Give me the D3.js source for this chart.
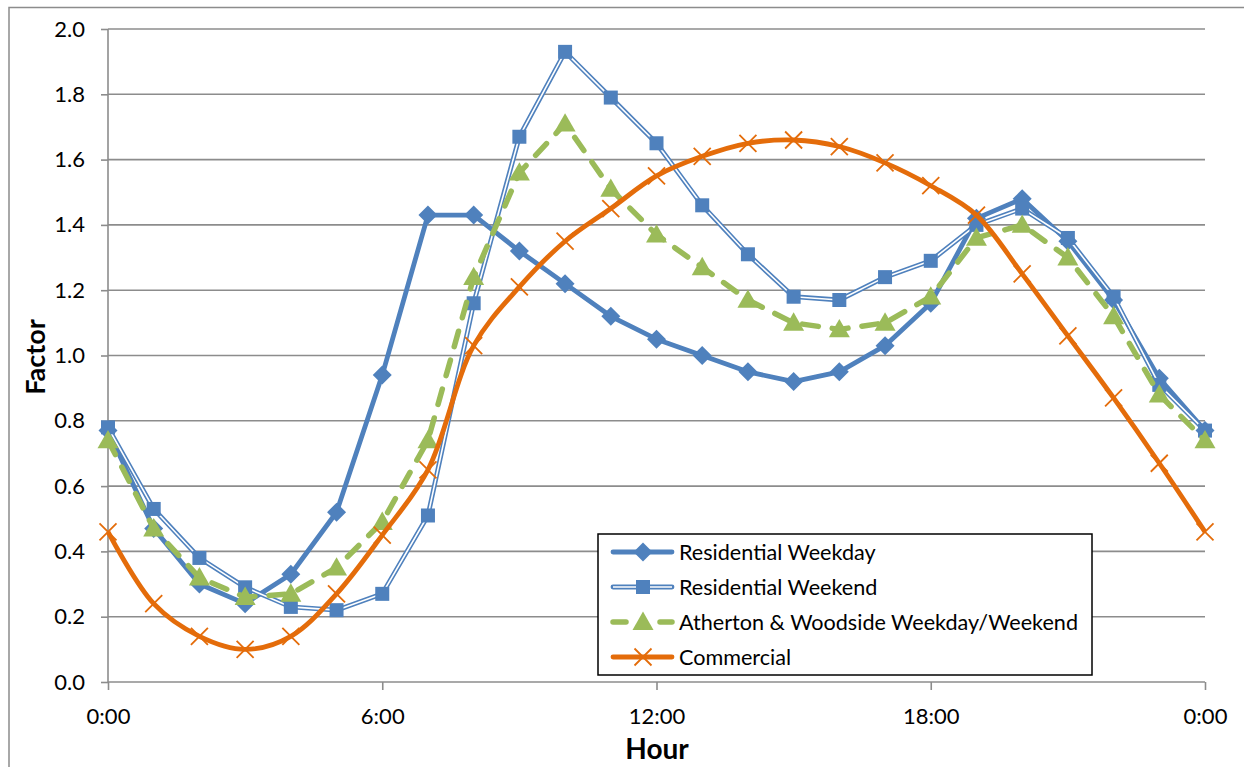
<!DOCTYPE html>
<html><head><meta charset="utf-8">
<script src="https://cdn.jsdelivr.net/npm/d3@7"></script>
<style>body{margin:0;background:#fff;} text{font-family:Lato, "Open Sans", sans-serif;}</style>
</head><body>
<svg id="chart" width="1254" height="767"></svg>
<script>
const hours = d3.range(0, 25);
const xTickLabels = ["0:00", "6:00", "12:00", "18:00", "0:00"];
const yTicks = [0, 0.2, 0.4, 0.6, 0.8, 1.0, 1.2, 1.4, 1.6, 1.8, 2.0];
const seriesNames = ["Residential Weekday", "Residential Weekend", "Atherton & Woodside Weekday/Weekend", "Commercial"];
const residentialWeekday = [0.77,0.47,0.30,0.24,0.33,0.52,0.94,1.43,1.43,1.32,1.22,1.12,1.05,1.00,0.95,0.92,0.95,1.03,1.16,1.42,1.48,1.35,1.17,0.93,0.77];
const residentialWeekend = [0.78,0.53,0.38,0.29,0.23,0.22,0.27,0.51,1.16,1.67,1.93,1.79,1.65,1.46,1.31,1.18,1.17,1.24,1.29,1.40,1.45,1.36,1.18,0.91,0.77];
const athertonWoodside = [0.74,0.47,0.32,0.26,0.27,0.35,0.49,0.74,1.24,1.56,1.71,1.51,1.37,1.27,1.17,1.10,1.08,1.10,1.18,1.36,1.40,1.30,1.12,0.88,0.74];
const commercial = [0.46,0.24,0.14,0.10,0.14,0.27,0.45,0.65,1.03,1.21,1.35,1.45,1.55,1.61,1.65,1.66,1.64,1.59,1.52,1.43,1.25,1.06,0.87,0.67,0.46];

const svg = d3.select("#chart");
const pL = 108, pR = 1205, pT = 29, pB = 682;
const x = d3.scaleLinear().domain([0, 24]).range([pL, pR]);
const y = d3.scaleLinear().domain([0, 2]).range([pB, pT]);

const BLUE = "#4F81BD", GREEN = "#9BBB59", ORANGE = "#E46C0A", GRID = "#8C8C8C";

// outer border
svg.append("path").attr("d", "M9,780 V7.5 H1244").attr("fill", "none").attr("stroke", GRID).attr("stroke-width", 1.5);

// gridlines
svg.append("g").selectAll("line").data(yTicks.slice(1)).join("line")
  .attr("x1", pL).attr("x2", pR).attr("y1", d => y(d)).attr("y2", d => y(d))
  .attr("stroke", GRID).attr("stroke-width", 1.6);

// y axis
const yAxis = d3.axisLeft(y).tickValues(yTicks).tickFormat(d3.format(".1f")).tickSize(7).tickPadding(16);
const gy = svg.append("g").attr("transform", `translate(${pL},0)`).call(yAxis);
gy.select(".domain").attr("stroke", GRID).attr("stroke-width", 1.6).attr("d", `M0,${pT}V${pB}`);
gy.selectAll(".tick line").attr("stroke", GRID).attr("stroke-width", 1.6);
gy.selectAll(".tick text").attr("font-size", 22).attr("fill", "#000").attr("font-family", "Lato");

// x axis
const xAxis = d3.axisBottom(x).tickValues([0, 6, 12, 18, 24]).tickFormat((d, i) => xTickLabels[i]).tickSize(8).tickPadding(18);
const gx = svg.append("g").attr("transform", `translate(0,${pB})`).call(xAxis);
gx.select(".domain").attr("stroke", GRID).attr("stroke-width", 1.6).attr("d", `M${pL},0H${pR}`);
gx.selectAll(".tick line").attr("stroke", GRID).attr("stroke-width", 1.6);
gx.selectAll(".tick text").attr("font-size", 22).attr("fill", "#000").attr("font-family", "Lato");

// axis titles
svg.append("text").attr("x", 657).attr("y", 759).attr("text-anchor", "middle")
  .attr("font-size", 28).attr("font-weight", "bold").text("Hour");
svg.append("text").attr("transform", "translate(45,357) rotate(-90)").attr("text-anchor", "middle")
  .attr("font-size", 27).attr("font-weight", "bold").text("Factor");

// marker generators
function diamond(g, cx, cy, s, color) {
  g.append("path").attr("d", `M${cx},${cy - s}L${cx + s},${cy}L${cx},${cy + s}L${cx - s},${cy}Z`).attr("fill", color);
}
function square(g, cx, cy, s, color) {
  g.append("rect").attr("x", cx - s).attr("y", cy - s).attr("width", 2 * s).attr("height", 2 * s).attr("fill", color);
}
function triangle(g, cx, cy, s, color) {
  g.append("path").attr("d", `M${cx},${cy - s}L${cx + s},${cy + s * 0.75}L${cx - s},${cy + s * 0.75}Z`).attr("fill", color);
}
function cross(g, cx, cy, s, color) {
  g.append("path").attr("d", `M${cx - s},${cy - s}L${cx + s},${cy + s}M${cx - s},${cy + s}L${cx + s},${cy - s}`)
    .attr("stroke", color).attr("stroke-width", 1.8).attr("fill", "none");
}

const lineLin = d3.line().x((d, i) => x(hours[i])).y(d => y(d));
const lineSmooth = d3.line().x((d, i) => x(hours[i])).y(d => y(d)).curve(d3.curveCatmullRom.alpha(0.5));

const plot = svg.append("g");

// Residential Weekday
plot.append("path").attr("d", lineLin(residentialWeekday)).attr("fill", "none").attr("stroke", BLUE).attr("stroke-width", 4.8).attr("stroke-linejoin", "round");
const gWd = plot.append("g");
residentialWeekday.forEach((v, i) => diamond(gWd, x(hours[i]), y(v), 9.5, BLUE));

// Residential Weekend (double line)
plot.append("path").attr("d", lineLin(residentialWeekend)).attr("fill", "none").attr("stroke", BLUE).attr("stroke-width", 4.8).attr("stroke-linejoin", "round");
plot.append("path").attr("d", lineLin(residentialWeekend)).attr("fill", "none").attr("stroke", "#fff").attr("stroke-width", 1.6).attr("stroke-linejoin", "round");
const gWe = plot.append("g");
residentialWeekend.forEach((v, i) => square(gWe, x(hours[i]), y(v), 7, BLUE));

// Atherton & Woodside
plot.append("path").attr("d", lineLin(athertonWoodside)).attr("fill", "none").attr("stroke", GREEN).attr("stroke-width", 5.5)
  .attr("stroke-dasharray", "16,14").attr("stroke-linecap", "round").attr("stroke-linejoin", "round");
const gAt = plot.append("g");
athertonWoodside.forEach((v, i) => triangle(gAt, x(hours[i]), y(v), 10.5, GREEN));

// Commercial
plot.append("path").attr("d", lineSmooth(commercial)).attr("fill", "none").attr("stroke", ORANGE).attr("stroke-width", 4.8).attr("stroke-linejoin", "round");
const gCo = plot.append("g");
commercial.forEach((v, i) => cross(gCo, x(hours[i]), y(v), 8.5, ORANGE));

// Legend
const lg = svg.append("g");
lg.append("rect").attr("x", 598).attr("y", 534).attr("width", 494).attr("height", 141).attr("fill", "#fff").attr("stroke", "#000").attr("stroke-width", 1.5);
const rows = [552, 587, 622, 657];
const lx1 = 613, lx2 = 672, lcx = 643;
lg.append("line").attr("x1", lx1).attr("x2", lx2).attr("y1", rows[0]).attr("y2", rows[0]).attr("stroke", BLUE).attr("stroke-width", 4.8).attr("stroke-linecap", "round");
diamond(lg, lcx, rows[0], 9.5, BLUE);
lg.append("line").attr("x1", lx1).attr("x2", lx2).attr("y1", rows[1]).attr("y2", rows[1]).attr("stroke", BLUE).attr("stroke-width", 4.8).attr("stroke-linecap", "round");
lg.append("line").attr("x1", lx1).attr("x2", lx2).attr("y1", rows[1]).attr("y2", rows[1]).attr("stroke", "#fff").attr("stroke-width", 1.6);
square(lg, lcx, rows[1], 7, BLUE);
lg.append("line").attr("x1", lx1).attr("x2", 626).attr("y1", rows[2]).attr("y2", rows[2]).attr("stroke", GREEN).attr("stroke-width", 5.5).attr("stroke-linecap", "round");
lg.append("line").attr("x1", 660).attr("x2", lx2).attr("y1", rows[2]).attr("y2", rows[2]).attr("stroke", GREEN).attr("stroke-width", 5.5).attr("stroke-linecap", "round");
triangle(lg, lcx, rows[2], 10.5, GREEN);
lg.append("line").attr("x1", lx1).attr("x2", lx2).attr("y1", rows[3]).attr("y2", rows[3]).attr("stroke", ORANGE).attr("stroke-width", 4.8).attr("stroke-linecap", "round");
cross(lg, lcx, rows[3], 8.5, ORANGE);
lg.selectAll("text.lab").data(seriesNames).join("text").attr("class", "lab")
  .attr("x", 679).attr("y", (d, i) => rows[i] + 8).attr("font-size", 21.6).attr("fill", "#000").text(d => d);
</script>
</body></html>
